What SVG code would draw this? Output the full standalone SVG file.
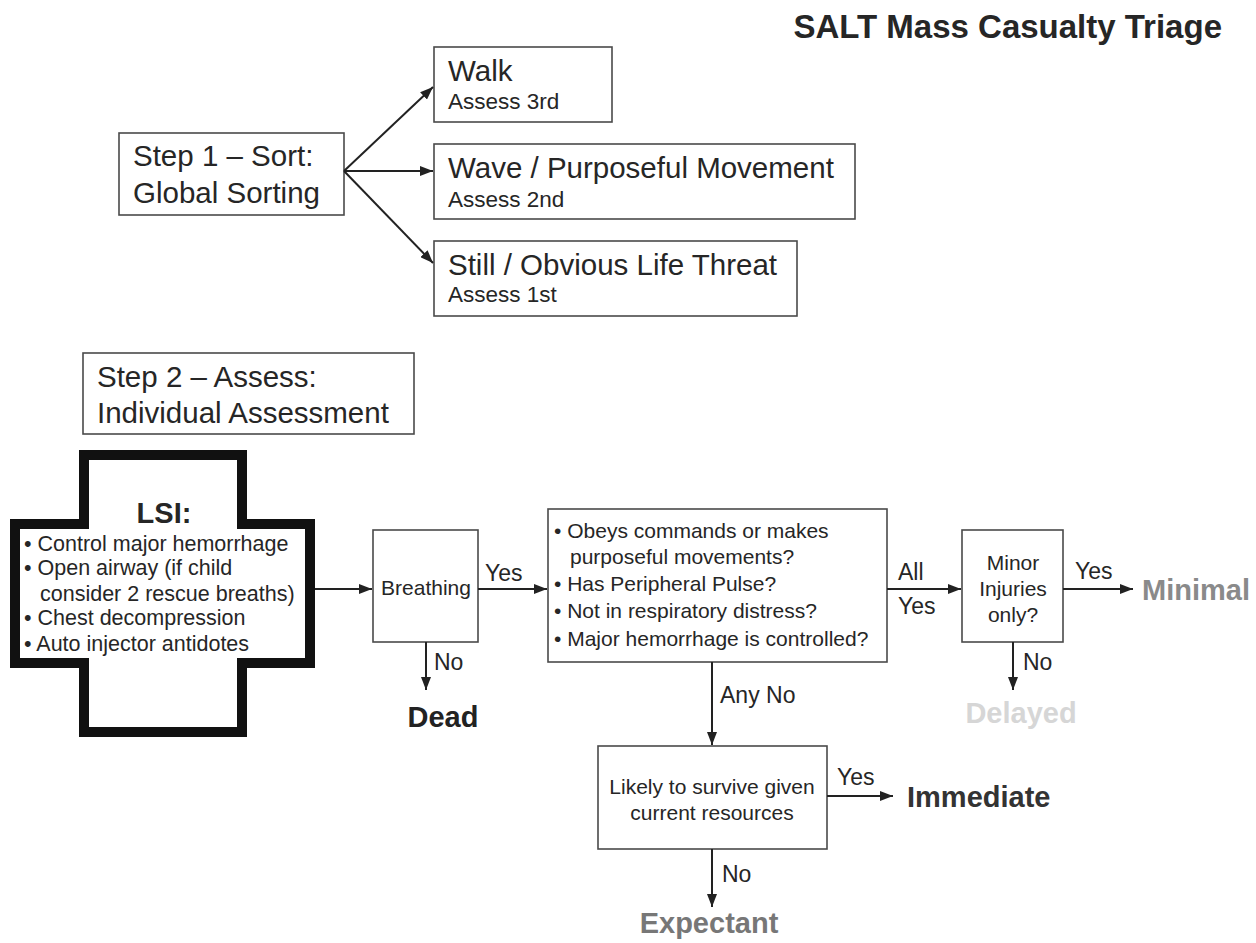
<svg xmlns="http://www.w3.org/2000/svg" width="1256" height="943" viewBox="0 0 1256 943">
<defs>
<marker id="ah" markerUnits="userSpaceOnUse" markerWidth="13" markerHeight="10" refX="13" refY="5" orient="auto">
<path d="M0,0 L13,5 L0,10 Z" fill="#222"/>
</marker>
<style>
text{font-family:"Liberation Sans",Arial,Helvetica,sans-serif;fill:#262626}
.box{fill:#fff;stroke:#4a4a4a;stroke-width:1.6}
.big{font-size:29.5px}
.sub{font-size:22.5px}
.sm{font-size:21px}
.lsi{font-size:21.5px}
.lbl{font-size:23px}
.out{font-size:29px;font-weight:bold}
.c{text-anchor:middle}
.ln{stroke:#222;stroke-width:2;fill:none;marker-end:url(#ah)}
</style>
</defs>
<rect width="1256" height="943" fill="#fff"/>
<g id="title"><text x="1222" y="38" text-anchor="end" style="font-size:33px;font-weight:bold">SALT Mass Casualty Triage</text></g>
<g id="step1"><rect class="box" x="119" y="133" width="225" height="82"/>
<text class="big" x="133" y="166">Step 1 – Sort:</text><text class="big" x="133" y="203">Global Sorting</text></g>
<g id="walk"><rect class="box" x="434" y="47" width="178" height="75"/>
<text class="big" x="448" y="81">Walk</text><text class="sub" x="448" y="109">Assess 3rd</text></g>
<g id="wave"><rect class="box" x="434" y="144" width="421" height="75"/>
<text class="big" x="448" y="178">Wave / Purposeful Movement</text><text class="sub" x="448" y="207">Assess 2nd</text></g>
<g id="still"><rect class="box" x="434" y="241" width="363" height="75"/>
<text class="big" x="448" y="275">Still / Obvious Life Threat</text><text class="sub" x="448" y="302">Assess 1st</text></g>
<g id="step2"><rect class="box" x="83" y="353" width="331" height="81"/>
<text class="big" x="97" y="387">Step 2 – Assess:</text><text class="big" x="97" y="423">Individual Assessment</text></g>
<g id="lsi"><path d="M84,455 H242 V524 H310 V663 H242 V732 H84 V663 H15 V524 H84 Z" fill="#fff" stroke="#111" stroke-width="10"/>
<text x="164" y="523" class="c" style="font-size:29px;font-weight:bold">LSI:</text>
<text class="lsi" x="24" y="551">• Control major hemorrhage</text>
<text class="lsi" x="24" y="575">• Open airway (if child</text>
<text class="lsi" x="40" y="601">consider 2 rescue breaths)</text>
<text class="lsi" x="24" y="625">• Chest decompression</text>
<text class="lsi" x="24" y="651">• Auto injector antidotes</text></g>
<g id="breathing"><rect class="box" x="373" y="530" width="105" height="112"/>
<text class="sm c" x="426" y="595">Breathing</text></g>
<g id="obeys"><rect class="box" x="548" y="509" width="339" height="153"/>
<text class="sm" x="554" y="538">• Obeys commands or makes</text>
<text class="sm" x="570" y="564">purposeful movements?</text>
<text class="sm" x="554" y="591">• Has Peripheral Pulse?</text>
<text class="sm" x="554" y="618">• Not in respiratory distress?</text>
<text class="sm" x="554" y="646">• Major hemorrhage is controlled?</text></g>
<g id="minor"><rect class="box" x="962" y="530" width="101" height="112"/>
<text class="sm c" x="1013" y="570">Minor</text><text class="sm c" x="1013" y="596">Injuries</text><text class="sm c" x="1013" y="622">only?</text></g>
<g id="likely"><rect class="box" x="598" y="746" width="229" height="103"/>
<text class="sm c" x="712" y="794">Likely to survive given</text><text class="sm c" x="712" y="820">current resources</text></g>
<g id="dead"><text class="out c" x="443" y="727" style="fill:#222">Dead</text></g>
<g id="minimal"><text class="out" x="1142" y="600" style="fill:#8a8a8a">Minimal</text></g>
<g id="delayed"><text class="out c" x="1021" y="723" style="fill:#d6d6d6">Delayed</text></g>
<g id="immediate"><text class="out" x="907" y="807" style="fill:#333">Immediate</text></g>
<g id="expectant"><text class="out c" x="709" y="933" style="fill:#777">Expectant</text></g>
<g id="connectors">
<line class="ln" x1="344" y1="171" x2="433" y2="87"/>
<line class="ln" x1="344" y1="171" x2="433" y2="171"/>
<line class="ln" x1="344" y1="171" x2="433" y2="263"/>
<line class="ln" x1="315" y1="589" x2="372" y2="589"/>
<line class="ln" x1="478" y1="589" x2="547" y2="589"/>
<line class="ln" x1="426" y1="642" x2="426" y2="690"/>
<line class="ln" x1="887" y1="589" x2="961" y2="589"/>
<line class="ln" x1="1063" y1="589" x2="1133" y2="589"/>
<line class="ln" x1="1013" y1="642" x2="1013" y2="690"/>
<line class="ln" x1="712" y1="662" x2="712" y2="745"/>
<line class="ln" x1="827" y1="796" x2="893" y2="796"/>
<line class="ln" x1="712" y1="849" x2="712" y2="907"/>
<text class="lbl" x="485" y="581">Yes</text>
<text class="lbl" x="434" y="670">No</text>
<text class="lbl" x="898" y="580">All</text>
<text class="lbl" x="898" y="614">Yes</text>
<text class="lbl" x="1075" y="579">Yes</text>
<text class="lbl" x="1023" y="670">No</text>
<text class="lbl" x="720" y="703">Any No</text>
<text class="lbl" x="837" y="785">Yes</text>
<text class="lbl" x="722" y="882">No</text>
</g>
</svg>
